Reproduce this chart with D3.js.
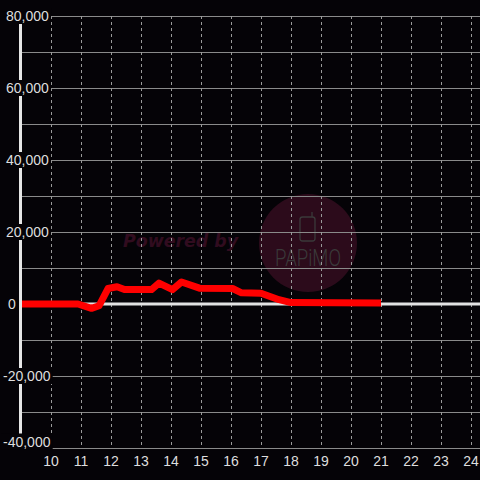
<!DOCTYPE html>
<html><head><meta charset="utf-8">
<script src="https://cdn.jsdelivr.net/npm/d3@7"></script>
<style>html,body{margin:0;padding:0;background:#050307;}svg{display:block;}</style>
</head><body>
<svg id="c" width="480" height="480"></svg>
<script>
const hours = [9.0, 10.9, 11.35, 11.6, 11.9, 12.2, 12.45, 13.35, 13.6, 14.05, 14.35, 14.95, 16.05, 16.35, 17.0, 17.6, 18.0, 21.0];
const values = [0, 0, -1200, -500, 4300, 4800, 4000, 4000, 5800, 4000, 6100, 4400, 4300, 3100, 3000, 1200, 400, 300];
const xTicks = [10,11,12,13,14,15,16,17,18,19,20,21,22,23,24];
const yTicks = [-40000,-20000,0,20000,40000,60000,80000];
const yGrid = [-40000,-30000,-20000,-10000,0,10000,20000,30000,40000,50000,60000,70000,80000];

const svg = d3.select("#c");
const x = d3.scaleLinear().domain([9, 24.3]).range([21, 480]);
const y = d3.scaleLinear().domain([-40000, 80000]).range([448, 16]);
const font = "'Liberation Sans', Arial, sans-serif";

svg.append("rect").attr("width",480).attr("height",480).attr("fill","#050307");

// watermark
const wm = svg.append("g");
wm.append("circle").attr("cx",308).attr("cy",243).attr("r",49).attr("fill","#2c0b1b");
wm.append("text").attr("x",123).attr("y",247).attr("font-family","'DejaVu Sans', sans-serif")
  .attr("font-weight","bold").attr("font-style","italic").attr("font-size",17)
  .attr("fill","#310c1f").attr("textLength",115).attr("lengthAdjust","spacingAndGlyphs").text("Powered by");
wm.append("rect").attr("x",300).attr("y",217).attr("width",15).attr("height",24).attr("rx",2.5)
  .attr("fill","none").attr("stroke","#3a3a3a").attr("stroke-width",1.3);
wm.append("line").attr("x1",312).attr("y1",217).attr("x2",312).attr("y2",212)
  .attr("stroke","#3a3a3a").attr("stroke-width",1.3);
wm.append("text").attr("x",275).attr("y",266).attr("font-family","Roboto, sans-serif")
  .attr("font-weight",300).attr("font-size",23).attr("fill","#3a3a3a")
  .attr("textLength",66).attr("lengthAdjust","spacingAndGlyphs").text("PAPiMO");

// gridlines
svg.append("g").selectAll("line").data(yGrid).join("line")
  .attr("x1",21).attr("x2",480).attr("y1",d=>y(d)+0.5).attr("y2",d=>y(d)+0.5)
  .attr("stroke","#8a8a8a").attr("stroke-width",1);
svg.append("g").selectAll("line").data(xTicks).join("line")
  .attr("x1",d=>x(d)+0.5).attr("x2",d=>x(d)+0.5).attr("y1",16).attr("y2",448)
  .attr("stroke","#9a9a9a").attr("stroke-width",1).attr("stroke-dasharray","3,3");

// zero line
svg.append("line").attr("x1",21).attr("x2",480).attr("y1",y(0)).attr("y2",y(0))
  .attr("stroke","#e2e2e2").attr("stroke-width",3);

// data line
const pts = hours.map((h,i)=>[h, values[i]]);
svg.append("path").datum(pts)
  .attr("d", d3.line().x(d=>x(d[0])).y(d=>y(d[1])))
  .attr("fill","none").attr("stroke","#ff0000").attr("stroke-width",7)
  .attr("stroke-linejoin","round").attr("stroke-linecap","butt");

// left axis line
svg.append("line").attr("x1",20.5).attr("x2",20.5).attr("y1",16).attr("y2",448)
  .attr("stroke","#e6e6e6").attr("stroke-width",3);

// y labels with background
const fmt = d => d3.format(",")(d).replace("\u2212","-");
const yl = svg.append("g").selectAll("g").data(yTicks).join("g");
yl.each(function(d){
  const g = d3.select(this);
  const cy = Math.min(y(d), 441.5);
  const t = g.append("text").attr("x", d < 0 ? 3 : (d === 0 ? 8 : 6)).attr("y",cy).attr("dy","0.36em")
    .attr("text-anchor","start").attr("font-family",font).attr("font-size",14)
    .attr("fill","#dedede").text(fmt(d));
  const b = t.node().getBBox();
  g.insert("rect","text").attr("x",b.x-2).attr("y",cy-8).attr("width",b.width+4).attr("height",16)
    .attr("fill","#050307");
});

// x labels
svg.append("g").selectAll("text").data(xTicks).join("text")
  .attr("x",d=>x(d)).attr("y",466).attr("text-anchor","middle")
  .attr("font-family",font).attr("font-size",14).attr("fill","#dedede").text(d=>d);
</script>
</body></html>
